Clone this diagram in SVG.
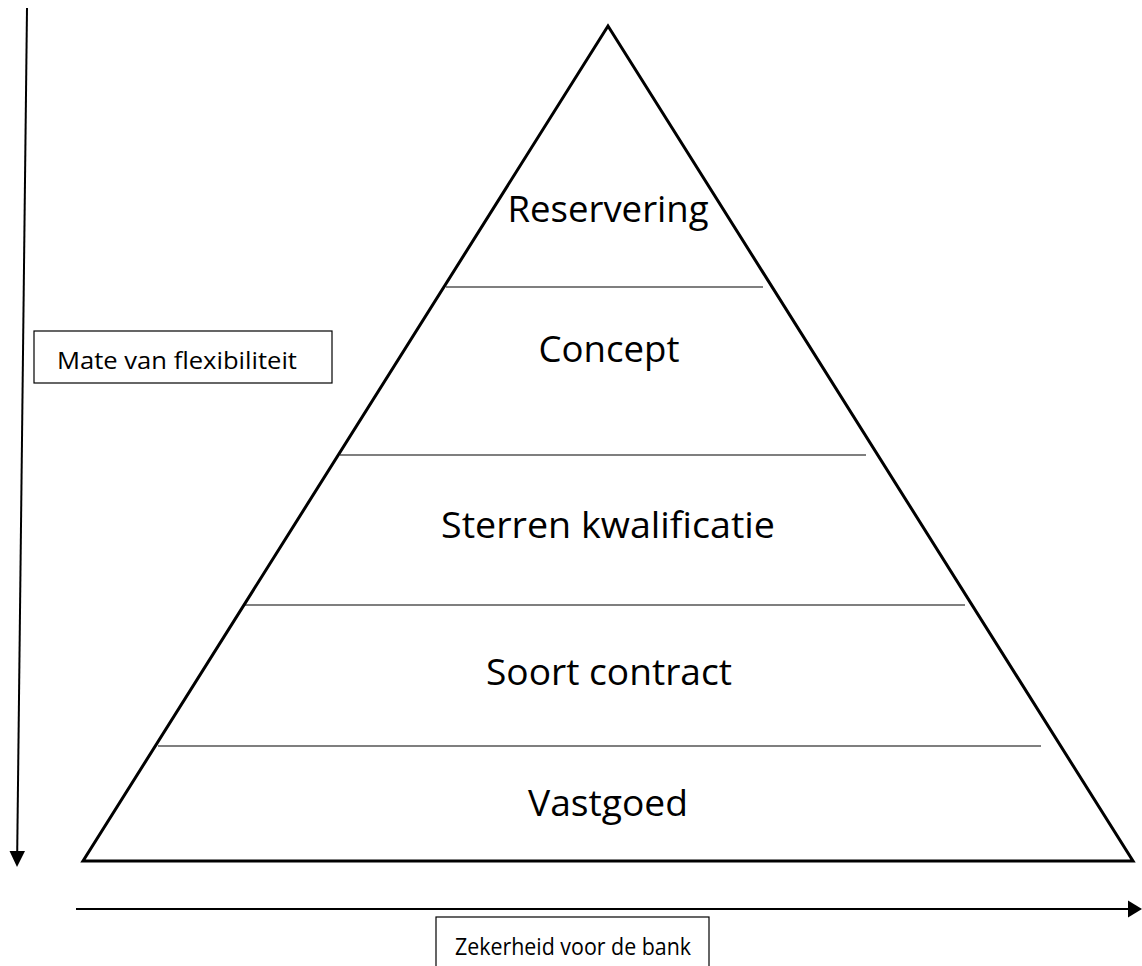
<svg xmlns="http://www.w3.org/2000/svg" width="1142" height="966" viewBox="0 0 1142 966">
<style>
.edge{stroke:#000;stroke-width:3;fill:none}
.layer{stroke:#000;stroke-width:1.2}
.axis{stroke:#000;stroke-width:2}
.lbl{font-family:"Open Sans","Liberation Sans",sans-serif;font-size:36px;fill:#000;text-anchor:middle}
.small{font-family:"Open Sans","Liberation Sans",sans-serif;font-size:23.5px;fill:#000}
.box{fill:#fff;stroke:#000;stroke-width:1.2}
</style>
<rect width="1142" height="966" fill="#fff"/>
<g id="pyramid">
<polygon class="edge" points="608,26 83,861 1133,861" stroke-linejoin="miter"/>
</g>
<g id="layers">
<line class="layer" x1="446" y1="287" x2="763" y2="287"/>
<line class="layer" x1="340" y1="455" x2="866" y2="455"/>
<line class="layer" x1="245" y1="605" x2="965" y2="605"/>
<line class="layer" x1="158" y1="746" x2="1041" y2="746"/>
</g>
<g id="node-reservering"><text class="lbl" x="608" y="222" textLength="201" lengthAdjust="spacingAndGlyphs">Reservering</text></g>
<g id="node-concept"><text class="lbl" x="609" y="362" textLength="141" lengthAdjust="spacingAndGlyphs">Concept</text></g>
<g id="node-sterren"><text class="lbl" x="608" y="538" textLength="334" lengthAdjust="spacingAndGlyphs">Sterren kwalificatie</text></g>
<g id="node-soort"><text class="lbl" x="609" y="685" textLength="246" lengthAdjust="spacingAndGlyphs">Soort contract</text></g>
<g id="node-vastgoed"><text class="lbl" x="608" y="816" textLength="160" lengthAdjust="spacingAndGlyphs">Vastgoed</text></g>
<g id="connectors">
<line class="axis" x1="27" y1="8" x2="17.2" y2="853"/>
<polygon points="17,867 9.5,851 25,851" fill="#000"/>
<line class="axis" x1="76" y1="909" x2="1130" y2="909"/>
<polygon points="1142,909 1128,900.5 1128,917.5" fill="#000"/>
</g>
<g id="label-flex">
<rect class="box" x="34" y="331" width="298" height="52"/>
<text class="small" x="57" y="369" textLength="240" lengthAdjust="spacingAndGlyphs">Mate van flexibiliteit</text>
</g>
<g id="label-zekerheid">
<rect class="box" x="436" y="917" width="273" height="60"/>
<text class="small" x="455" y="955" textLength="236" lengthAdjust="spacingAndGlyphs">Zekerheid voor de bank</text>
</g>
</svg>
